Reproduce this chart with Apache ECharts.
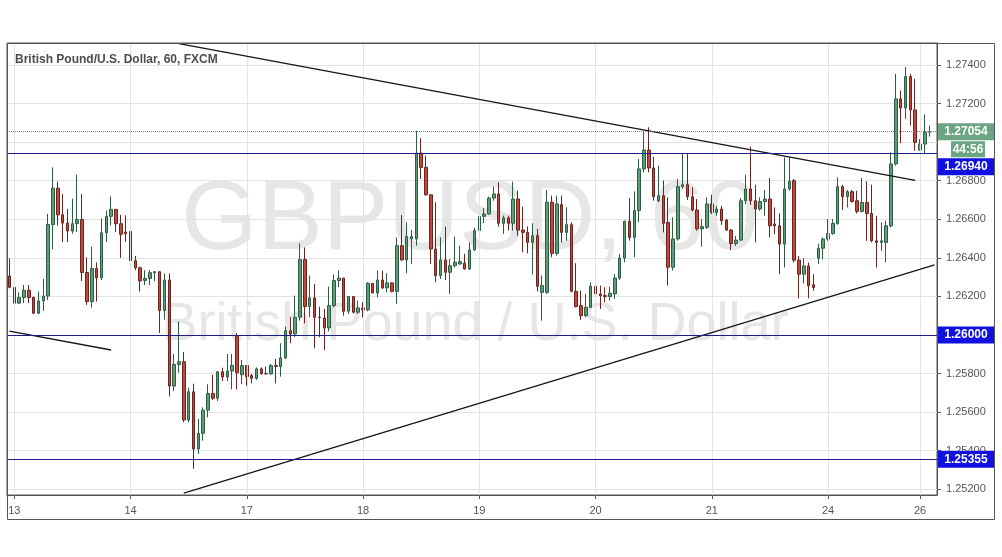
<!DOCTYPE html>
<html><head><meta charset="utf-8">
<script src="https://cdn.jsdelivr.net/npm/echarts@6/dist/echarts.min.js"></script>
<style>html,body{margin:0;padding:0;background:#fff;}#chart{width:1002px;height:557px;}</style>
</head><body><div id="chart"></div>
<script>
// ---- data (hourly GBP/USD bars) ----
const opens = [
1.26306,1.26247,1.26165,1.26194,1.26232,1.26194,1.26113,1.26177,1.26202,1.26573,
1.26761,1.26623,1.26580,1.26539,1.26577,1.26599,1.26324,1.26173,1.26345,1.26297,
1.26530,1.26615,1.26651,1.26577,1.26534,1.26537,1.26385,1.26348,1.26283,1.26293,
1.26323,1.26328,1.26127,1.26285,1.25735,1.25847,1.25861,1.25559,1.25705,1.25409,
1.25490,1.25610,1.25696,1.25672,1.25809,1.25782,1.25813,1.25996,1.25794,1.25841,
1.25789,1.25775,1.25824,1.25798,1.25798,1.25841,1.25836,1.25881,1.26022,1.26005,
1.26092,1.26391,1.26147,1.26192,1.26092,1.26088,1.26036,1.26152,1.26282,1.26295,
1.26123,1.26199,1.26118,1.26140,1.26130,1.26268,1.26218,1.26285,1.26244,1.26270,
1.26226,1.26463,1.26389,1.26498,1.26498,1.26943,1.26869,1.26727,1.26446,1.26308,
1.26389,1.26325,1.26359,1.26368,1.26372,1.26342,1.26441,1.26541,1.26615,1.26627,
1.26710,1.26731,1.26579,1.26607,1.26579,1.26705,1.26544,1.26532,1.26480,1.26515,
1.26221,1.26221,1.26688,1.26423,1.26676,1.26532,1.26572,1.26226,1.26152,1.26100,
1.26143,1.26252,1.26213,1.26204,1.26199,1.26213,1.26295,1.26399,1.26589,1.26506,
1.26645,1.26861,1.26959,1.26866,1.26696,1.26722,1.26584,1.26351,1.26498,1.26769,
1.26779,1.26717,1.26648,1.26550,1.26558,1.26679,1.26635,1.26653,1.26596,1.26544,
1.26474,1.26492,1.26696,1.26757,1.26696,1.26653,1.26692,1.26705,1.26575,1.26566,
1.26471,1.26757,1.26800,1.26388,1.26315,1.26358,1.26260,1.26398,1.26450,1.26497,
1.26526,1.26578,1.26769,1.26717,1.26743,1.26696,1.26641,1.26687,1.26630,1.26488,
1.26480,1.26480,1.26566,1.26887,1.27224,1.27177,1.27340,1.27167,1.26959,1.26990,
1.27051];
const highs = [
1.26397,1.26307,1.26221,1.26259,1.26259,1.26199,1.26225,1.26290,1.26628,1.26869,
1.26795,1.26731,1.26654,1.26706,1.26831,1.26731,1.26402,1.26457,1.26376,1.26603,
1.26645,1.26719,1.26654,1.26623,1.26620,1.26568,1.26410,1.26354,1.26336,1.26336,
1.26331,1.26328,1.26319,1.26319,1.25902,1.26070,1.25912,1.25727,1.25747,1.25564,
1.25624,1.25744,1.25792,1.25813,1.25830,1.25902,1.25902,1.26010,1.25870,1.25841,
1.25798,1.25832,1.25832,1.25836,1.25850,1.25876,1.25957,1.26043,1.26092,1.26204,
1.26475,1.26454,1.26308,1.26264,1.26147,1.26135,1.26251,1.26313,1.26334,1.26295,
1.26199,1.26199,1.26178,1.26169,1.26273,1.26268,1.26334,1.26334,1.26320,1.26273,
1.26506,1.26622,1.26584,1.26544,1.27059,1.27021,1.26930,1.26727,1.26688,1.26506,
1.26562,1.26394,1.26510,1.26463,1.26420,1.26480,1.26555,1.26627,1.26658,1.26717,
1.26769,1.26791,1.26619,1.26619,1.26795,1.26748,1.26665,1.26562,1.26579,1.26550,
1.26308,1.26752,1.26722,1.26722,1.26722,1.26662,1.26584,1.26372,1.26230,1.26213,
1.26273,1.26264,1.26256,1.26247,1.26251,1.26316,1.26420,1.26593,1.26710,1.26745,
1.26912,1.27056,1.27077,1.26924,1.26878,1.26800,1.26714,1.26610,1.26809,1.26938,
1.26938,1.26766,1.26705,1.26601,1.26714,1.26727,1.26670,1.26670,1.26601,1.26549,
1.26514,1.26710,1.26831,1.26977,1.26779,1.26713,1.26752,1.26814,1.26661,1.26630,
1.26921,1.26921,1.26809,1.26410,1.26398,1.26376,1.26315,1.26474,1.26506,1.26601,
1.26601,1.26817,1.26779,1.26752,1.26752,1.26748,1.26814,1.26797,1.26779,1.26618,
1.26584,1.26592,1.26947,1.27354,1.27268,1.27389,1.27354,1.27328,1.27016,1.27143,
1.27086];
const lows = [
1.26242,1.26161,1.26161,1.26165,1.26165,1.26108,1.26108,1.26125,1.26182,1.26445,
1.26568,1.26482,1.26482,1.26525,1.26534,1.26280,1.26156,1.26142,1.26173,1.26285,
1.26482,1.26568,1.26534,1.26400,1.26482,1.26354,1.26336,1.26225,1.26259,1.26259,
1.26280,1.26010,1.26079,1.25681,1.25710,1.25804,1.25547,1.25547,1.25306,1.25383,
1.25452,1.25572,1.25662,1.25658,1.25761,1.25761,1.25718,1.25718,1.25746,1.25737,
1.25749,1.25767,1.25794,1.25794,1.25794,1.25749,1.25784,1.25876,1.25957,1.25990,
1.26074,1.26060,1.26092,1.25931,1.25988,1.25922,1.26019,1.26143,1.26247,1.26100,
1.26109,1.26112,1.26109,1.26092,1.26123,1.26216,1.26195,1.26238,1.26221,1.26221,
1.26161,1.26385,1.26320,1.26368,1.26463,1.26809,1.26722,1.26368,1.26273,1.26290,
1.26285,1.26213,1.26351,1.26365,1.26339,1.26337,1.26437,1.26532,1.26579,1.26624,
1.26696,1.26562,1.26524,1.26541,1.26541,1.26515,1.26429,1.26423,1.26313,1.26226,
1.26074,1.26213,1.26403,1.26411,1.26480,1.26489,1.26221,1.26143,1.26078,1.26092,
1.26140,1.26204,1.26135,1.26169,1.26178,1.26187,1.26285,1.26377,1.26489,1.26403,
1.26584,1.26843,1.26843,1.26696,1.26688,1.26532,1.26256,1.26334,1.26489,1.26757,
1.26700,1.26641,1.26541,1.26458,1.26550,1.26627,1.26618,1.26571,1.26540,1.26440,
1.26462,1.26488,1.26679,1.26675,1.26480,1.26644,1.26618,1.26506,1.26523,1.26315,
1.26350,1.26748,1.26376,1.26190,1.26267,1.26190,1.26229,1.26367,1.26393,1.26488,
1.26520,1.26571,1.26648,1.26661,1.26687,1.26630,1.26635,1.26488,1.26480,1.26350,
1.26436,1.26376,1.26558,1.26878,1.26994,1.27120,1.27086,1.26956,1.26956,1.26942,
1.27029];
const closes = [
1.26247,1.26165,1.26194,1.26232,1.26194,1.26113,1.26177,1.26202,1.26573,1.26761,
1.26623,1.26580,1.26539,1.26577,1.26599,1.26324,1.26173,1.26345,1.26297,1.26530,
1.26615,1.26651,1.26577,1.26522,1.26525,1.26385,1.26348,1.26280,1.26293,1.26323,
1.26328,1.26127,1.26285,1.25735,1.25847,1.25861,1.25559,1.25705,1.25409,1.25490,
1.25610,1.25696,1.25672,1.25809,1.25782,1.25813,1.25842,1.25804,1.25841,1.25784,
1.25775,1.25824,1.25798,1.25800,1.25841,1.25836,1.25881,1.26022,1.26005,1.26092,
1.26391,1.26147,1.26192,1.26092,1.26090,1.26036,1.26152,1.26282,1.26295,1.26123,
1.26199,1.26118,1.26140,1.26130,1.26268,1.26218,1.26285,1.26244,1.26270,1.26226,
1.26463,1.26389,1.26510,1.26510,1.26943,1.26869,1.26727,1.26446,1.26308,1.26389,
1.26325,1.26359,1.26377,1.26380,1.26342,1.26441,1.26541,1.26615,1.26627,1.26710,
1.26731,1.26579,1.26607,1.26579,1.26705,1.26544,1.26532,1.26480,1.26515,1.26252,
1.26256,1.26688,1.26423,1.26679,1.26532,1.26572,1.26226,1.26147,1.26100,1.26143,
1.26252,1.26213,1.26204,1.26199,1.26216,1.26295,1.26399,1.26589,1.26506,1.26645,
1.26861,1.26959,1.26866,1.26717,1.26722,1.26579,1.26351,1.26498,1.26769,1.26779,
1.26717,1.26648,1.26550,1.26562,1.26679,1.26636,1.26653,1.26592,1.26544,1.26474,
1.26492,1.26696,1.26757,1.26696,1.26653,1.26692,1.26705,1.26566,1.26566,1.26471,
1.26757,1.26797,1.26388,1.26315,1.26358,1.26255,1.26246,1.26450,1.26497,1.26526,
1.26578,1.26769,1.26717,1.26743,1.26692,1.26641,1.26687,1.26630,1.26488,1.26480,
1.26488,1.26566,1.26887,1.27224,1.27177,1.27340,1.27167,1.26999,1.26990,1.27051,
1.27054];

const dayLabels = ['13','14','17','18','19','20','21','24','26'];
const dayStartBars = [1,25,49,73,97,121,145,169,188];
const levelPrices = [1.26940, 1.26000, 1.25355];
const lastPrice = 1.27054;
const countdownText = '44:56';
// trend lines: [barIndex, price] endpoints
const trendLines = [
  [[35, 1.27511], [187, 1.26802]],
  [[0, 1.26020], [21, 1.25922]],
  [[36, 1.25180], [191, 1.26364]]
];
const yMin = 1.25170, yMax = 1.27514;
const titleText = 'British Pound/U.S. Dollar, 60, FXCM';
const watermarkMain = 'GBPUSD, 60';
const watermarkSub = 'British Pound / U.S. Dollar';

// ---- build ----
const FONT = "'Liberation Sans', Arial, sans-serif";
const GREEN_BOX = '#6ba583';
const BLUE_BOX = '#1010e0';
const NAVY = '#1c1c8a';

const categories = [];
for (let i = 0; i <= opens.length; i++) categories.push(String(i));
const candleData = opens.map((o, i) => [o, closes[i], lows[i], highs[i]]);
const isDayStart = (i) => dayStartBars.indexOf(i) >= 0;

const chart = echarts.init(document.getElementById('chart'), null, {renderer: 'canvas'});

const baseMarkLine = {silent: true, symbol: ['none', 'none'], label: {show: false}, animation: false, precision: 6};

const option = {
  animation: false,
  backgroundColor: '#ffffff',
  grid: {left: 7, right: 65, top: 43, bottom: 62, show: true, borderColor: '#555', borderWidth: 1},
  xAxis: {
    type: 'category', data: categories, boundaryGap: true,
    axisLine: {show: true, lineStyle: {color: '#555', width: 1}},
    axisTick: {show: true, alignWithLabel: true, length: 4, interval: (i) => isDayStart(i), lineStyle: {color: '#555'}},
    axisLabel: {
      interval: (i) => isDayStart(i), color: '#555', fontSize: 11, fontFamily: FONT, margin: 10,
      formatter: (v) => { const k = dayStartBars.indexOf(Number(v)); return k >= 0 ? dayLabels[k] : ''; }
    },
    splitLine: {show: false}
  },
  yAxis: {
    type: 'value', position: 'right', min: yMin, max: yMax, splitNumber: 12,
    axisLine: {show: true, lineStyle: {color: '#555', width: 1}},
    axisTick: {show: true, length: 4, lineStyle: {color: '#555'}},
    axisLabel: {color: '#555', fontSize: 11, fontFamily: FONT, margin: 9, showMinLabel: false, showMaxLabel: false,
      formatter: (v) => v.toFixed(5)},
    splitLine: {show: true, lineStyle: {color: '#e3e3e3', width: 1}}
  },
  graphic: [
    {type: 'text', id: 'wm1', x: 470, y: 222, z: 0, silent: true,
      style: {text: watermarkMain, fontSize: 98, fontFamily: FONT, fill: '#e6e6e6', align: 'center', verticalAlign: 'middle'}},
    {type: 'text', id: 'wm2', x: 475, y: 325, z: 0, silent: true,
      style: {text: watermarkSub, fontSize: 54, fontFamily: FONT, fill: '#e6e6e6', align: 'center', verticalAlign: 'middle'}},
    {type: 'text', id: 'title', x: 15, y: 60, z: 100, silent: true,
      style: {text: titleText, fontSize: 12, fontWeight: 'bold', fontFamily: FONT, fill: '#4d4d4d', align: 'left', verticalAlign: 'middle'}},
    {type: 'rect', id: 'frame', z: 100, silent: true, shape: {x: 7.5, y: 43.5, width: 987, height: 476},
      style: {fill: 'none', stroke: '#555', lineWidth: 1}}
  ],
  series: [
    {
      type: 'line', name: 'vgrid', data: [], silent: true, z: 1,
      markLine: Object.assign({}, baseMarkLine, {
        lineStyle: {color: '#e3e3e3', width: 1, type: 'solid'},
        data: dayStartBars.map(i => ({xAxis: i}))})
    },
    {
      type: 'candlestick', name: 'GBPUSD', data: candleData, barWidth: 3, z: 3,
      itemStyle: {color: '#5b9e78', color0: '#c4473e', borderColor: '#2d5d43', borderColor0: '#6a2520', borderWidth: 1},
      markLine: Object.assign({}, baseMarkLine, {
        lineStyle: {color: '#151515', width: 1.3, type: 'solid'},
        data: trendLines.map(t => [{coord: t[0]}, {coord: t[1]}])})
    },
    {
      type: 'line', name: 'levels', data: [], silent: true, z: 4,
      markLine: Object.assign({}, baseMarkLine, {
        lineStyle: {color: NAVY, width: 1, type: 'solid'},
        data: levelPrices.map(v => ({yAxis: v}))})
    },
    {
      type: 'line', name: 'last', data: [], silent: true, z: 4,
      markLine: Object.assign({}, baseMarkLine, {
        lineStyle: {color: '#6f9282', width: 1, type: 'dotted'},
        data: [{yAxis: lastPrice}]})
    }
  ]
};
chart.setOption(option);

// right-axis price tags, positioned through the axis scale
const yPix = (v) => chart.convertToPixel({yAxisIndex: 0}, v);
const tagX = 938, tagW = 56, tagH = 17;
const lp = yPix(lastPrice);
const tags = [];
tags.push({type: 'rect', id: 'tagbg', z: 50, silent: true, shape: {x: tagX, y: lp - 9, width: 57, height: 35}, style: {fill: '#ffffff'}});
tags.push({type: 'rect', id: 'lastbox', z: 51, silent: true, shape: {x: tagX, y: lp - tagH / 2, width: tagW, height: tagH}, style: {fill: GREEN_BOX}});
tags.push({type: 'text', id: 'lasttxt', z: 52, silent: true, x: tagX + tagW / 2, y: lp,
  style: {text: lastPrice.toFixed(5), fontSize: 12, fontWeight: 'bold', fontFamily: FONT, fill: '#fff', align: 'center', verticalAlign: 'middle'}});
const cdTop = lp + tagH / 2 + 1;
tags.push({type: 'rect', id: 'cdbox', z: 51, silent: true, shape: {x: 951, y: cdTop, width: 34, height: 16}, style: {fill: GREEN_BOX}});
tags.push({type: 'text', id: 'cdtxt', z: 52, silent: true, x: 968, y: cdTop + 8,
  style: {text: countdownText, fontSize: 12, fontWeight: 'bold', fontFamily: FONT, fill: '#fff', align: 'center', verticalAlign: 'middle'}});
const occupiedBottom = cdTop + 16 + 1;
levelPrices.forEach((v, k) => {
  let top = yPix(v) - tagH / 2;
  if (top < occupiedBottom && top + tagH > lp - tagH / 2) top = occupiedBottom;
  tags.push({type: 'rect', id: 'lvbox' + k, z: 51, silent: true, shape: {x: tagX, y: top, width: tagW, height: tagH}, style: {fill: BLUE_BOX}});
  tags.push({type: 'text', id: 'lvtxt' + k, z: 52, silent: true, x: tagX + tagW / 2, y: top + tagH / 2,
    style: {text: v.toFixed(5), fontSize: 12, fontWeight: 'bold', fontFamily: FONT, fill: '#fff', align: 'center', verticalAlign: 'middle'}});
});
chart.setOption({graphic: option.graphic.concat(tags)});
</script>
</body></html>
